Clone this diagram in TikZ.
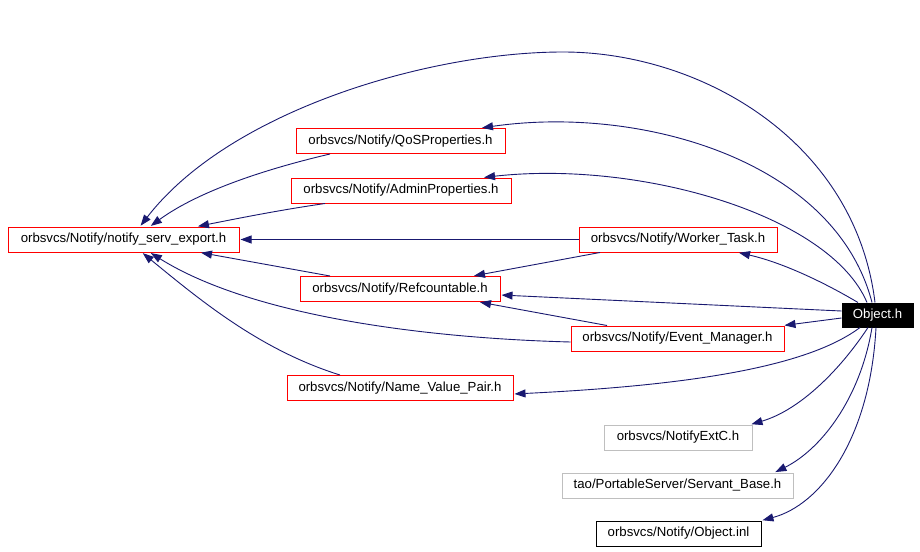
\documentclass[tikz,border=0pt]{standalone}
\usepackage{fontspec}
\setmainfont{Liberation Sans}
\usetikzlibrary{arrows.meta}
\definecolor{edgeblue}{HTML}{191970}
\definecolor{boxred}{HTML}{FF0000}
\definecolor{boxgray}{HTML}{BFBFBF}
\begin{document}
\begin{tikzpicture}[x=1pt,y=-1pt,
  filebox/.style={draw=boxred, line width=1pt, inner sep=0pt, minimum height=25pt,
    font=\fontsize{13.2}{15}\selectfont, text=black},
  graybox/.style={filebox, draw=boxgray},
  blackbox/.style={filebox, draw=black},
  rootbox/.style={filebox, draw=black, fill=black, text=white, minimum height=24pt},
  edge/.style={draw=edgeblue, line width=0.9pt, -{Triangle[length=11pt,width=8pt]}, edgeblue, shorten >=1pt}]
\useasboundingbox (0,0) rectangle (920,551);
\fill[white] (0,0) rectangle (920,551);

\node[filebox, minimum width=231pt] (nse) at (123.5,239.5) {orbsvcs/Notify/notify\_serv\_export.h};
\node[filebox, minimum width=209pt] (qos) at (400.5,141) {orbsvcs/Notify/QoSProperties.h};
\node[filebox, minimum width=220pt] (adm) at (401,190.5) {orbsvcs/Notify/AdminProperties.h};
\node[filebox, minimum width=200pt] (ref) at (400,289) {orbsvcs/Notify/Refcountable.h};
\node[filebox, minimum width=198pt] (wt) at (678,239.5) {orbsvcs/Notify/Worker\_Task.h};
\node[rootbox, minimum width=71pt] (obj) at (877.5,315) {Object.h};
\node[filebox, minimum width=213pt] (em) at (677.5,338.5) {orbsvcs/Notify/Event\_Manager.h};
\node[filebox, minimum width=226pt] (nvp) at (400,388) {orbsvcs/Notify/Name\_Value\_Pair.h};
\node[graybox, minimum width=148pt] (ext) at (678,437.5) {orbsvcs/NotifyExtC.h};
\node[graybox, minimum width=231pt] (sb) at (677.5,485.5) {tao/PortableServer/Servant\_Base.h};
\node[blackbox, minimum width=165pt] (inl) at (678.5,533.5) {orbsvcs/Notify/Object.inl};

% Object.h -> notify_serv_export.h (big arc)
\coordinate (peak) at (563,52);
\draw[edge] ([xshift=-2.5pt]obj.north) .. controls (855,140) and (700,52) .. (peak)
  .. controls (430,52) and (230,110) .. ([xshift=16.5pt]nse.north);
% Object.h -> QoSProperties.h
\draw[edge] ([xshift=-5.5pt]obj.north) .. controls (835,160) and (640,105) .. ([xshift=80.5pt]qos.north);
% Object.h -> AdminProperties.h
\draw[edge] ([xshift=-10.5pt]obj.north) .. controls (830,215) and (640,160) .. ([xshift=82pt]adm.north);
% QoSProperties.h -> notify_serv_export.h
\draw[edge] ([xshift=-70.5pt]qos.south) .. controls (270,168) and (200,190) .. ([xshift=26.5pt]nse.north);
% AdminProperties.h -> notify_serv_export.h
\draw[edge] ([xshift=-76pt]adm.south) .. controls (280,210) and (240,218) .. ([xshift=73.5pt]nse.north);
% Worker_Task.h -> notify_serv_export.h
\draw[edge] (wt.west) -- (nse.east);
% Refcountable.h -> notify_serv_export.h
\draw[edge] ([xshift=-70pt]ref.north) -- ([xshift=76.5pt]nse.south);
% Event_Manager.h -> notify_serv_export.h
\draw[edge] ([yshift=-3.5pt]em.west) .. controls (420,338) and (250,315) .. ([xshift=26.5pt]nse.south);
% Name_Value_Pair.h -> notify_serv_export.h
\draw[edge] ([xshift=-60pt]nvp.north) .. controls (260,350) and (200,300) .. ([xshift=18.5pt]nse.south);
% Worker_Task.h -> Refcountable.h
\draw[edge] ([xshift=-78pt]wt.south) -- ([xshift=73pt]ref.north);
% Object.h -> Worker_Task.h
\draw[edge] ([xshift=-19.5pt]obj.north) .. controls (820,280) and (780,262) .. ([xshift=60pt]wt.south);
% Object.h -> Refcountable.h
\draw[edge] ([yshift=4pt]obj.west) -- ([yshift=-6pt]ref.east);
% Event_Manager.h -> Refcountable.h
\draw[edge] ([xshift=-70.5pt]em.north) -- ([xshift=79pt]ref.south);
% Object.h -> Event_Manager.h
\draw[edge] ([yshift=-3pt]obj.west) -- ([xshift=-1pt]em.north east);
% Object.h -> Name_Value_Pair.h
\draw[edge] ([xshift=-17.5pt]obj.south) .. controls (810,365) and (700,385) .. ([yshift=-6pt]nvp.east);
% Object.h -> NotifyExtC.h
\draw[edge] ([xshift=-9.5pt]obj.south) .. controls (840,370) and (800,410) .. ([xshift=-2pt]ext.north east);
% Object.h -> Servant_Base.h
\draw[edge] ([xshift=-5.5pt]obj.south) .. controls (860,400) and (820,450) .. ([xshift=-19pt]sb.north east);
% Object.h -> Object.inl
\draw[edge] ([xshift=-1.5pt]obj.south) .. controls (870,440) and (820,505) .. (inl.north east);
\end{tikzpicture}
\end{document}
